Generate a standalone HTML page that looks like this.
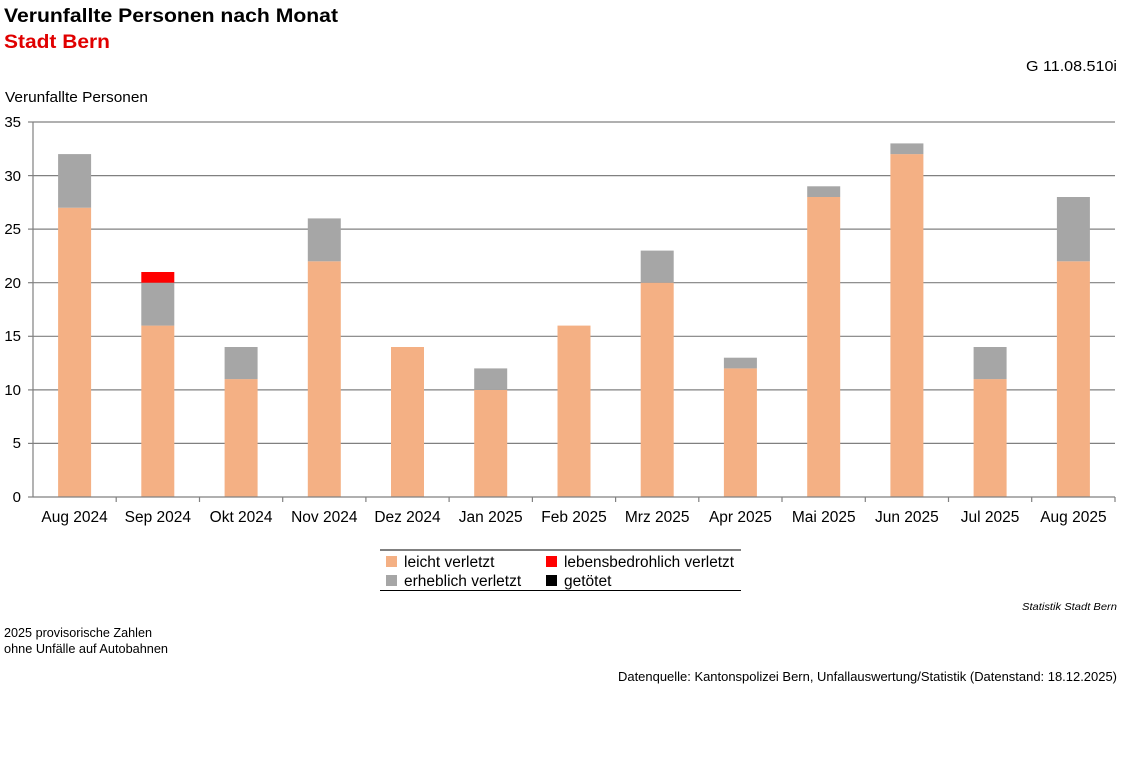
<!DOCTYPE html><html><head><meta charset="utf-8"><style>
body{margin:0;background:#fff;width:1127px;height:756px;overflow:hidden;font-family:"Liberation Sans",Arial,sans-serif}
</style></head><body>
<svg width="1127" height="756" xmlns="http://www.w3.org/2000/svg" font-family="Liberation Sans, Arial, sans-serif">
<text x="4" y="22" font-size="19" font-weight="bold" fill="#000" textLength="334" lengthAdjust="spacingAndGlyphs">Verunfallte Personen nach Monat</text>
<text x="4" y="48" font-size="19" font-weight="bold" fill="#e00000" textLength="106" lengthAdjust="spacingAndGlyphs">Stadt Bern</text>
<text x="1117" y="71" font-size="15" text-anchor="end" textLength="91" lengthAdjust="spacingAndGlyphs">G 11.08.510i</text>
<text x="5" y="102" font-size="15" textLength="143" lengthAdjust="spacingAndGlyphs">Verunfallte Personen</text>
<g stroke="#808080" stroke-width="1.2">
<line x1="33" x2="1115" y1="122" y2="122"/><line x1="33" x2="1115" y1="175.6" y2="175.6"/>
<line x1="33" x2="1115" y1="229.1" y2="229.1"/><line x1="33" x2="1115" y1="282.7" y2="282.7"/>
<line x1="33" x2="1115" y1="336.3" y2="336.3"/><line x1="33" x2="1115" y1="389.9" y2="389.9"/>
<line x1="33" x2="1115" y1="443.4" y2="443.4"/>
</g>
<g>
<rect x="58.1" y="207.7" width="33" height="289.3" fill="#f4b084"/><rect x="58.1" y="154.1" width="33" height="53.6" fill="#a6a6a6"/>
<rect x="141.3" y="325.6" width="33" height="171.4" fill="#f4b084"/><rect x="141.3" y="282.7" width="33" height="42.9" fill="#a6a6a6"/><rect x="141.3" y="272" width="33" height="10.7" fill="#ff0000"/>
<rect x="224.6" y="379.1" width="33" height="117.9" fill="#f4b084"/><rect x="224.6" y="347" width="33" height="32.1" fill="#a6a6a6"/>
<rect x="307.8" y="261.3" width="33" height="235.7" fill="#f4b084"/><rect x="307.8" y="218.4" width="33" height="42.9" fill="#a6a6a6"/>
<rect x="391" y="347" width="33" height="150" fill="#f4b084"/>
<rect x="474.2" y="389.9" width="33" height="107.1" fill="#f4b084"/><rect x="474.2" y="368.4" width="33" height="21.5" fill="#a6a6a6"/>
<rect x="557.5" y="325.6" width="33" height="171.4" fill="#f4b084"/>
<rect x="640.7" y="282.7" width="33" height="214.3" fill="#f4b084"/><rect x="640.7" y="250.6" width="33" height="32.1" fill="#a6a6a6"/>
<rect x="723.9" y="368.4" width="33" height="128.6" fill="#f4b084"/><rect x="723.9" y="357.7" width="33" height="10.7" fill="#a6a6a6"/>
<rect x="807.2" y="197" width="33" height="300" fill="#f4b084"/><rect x="807.2" y="186.3" width="33" height="10.7" fill="#a6a6a6"/>
<rect x="890.4" y="154.1" width="33" height="342.9" fill="#f4b084"/><rect x="890.4" y="143.4" width="33" height="10.7" fill="#a6a6a6"/>
<rect x="973.6" y="379.1" width="33" height="117.9" fill="#f4b084"/><rect x="973.6" y="347" width="33" height="32.1" fill="#a6a6a6"/>
<rect x="1056.9" y="261.3" width="33" height="235.7" fill="#f4b084"/><rect x="1056.9" y="197" width="33" height="64.3" fill="#a6a6a6"/>
</g>
<g stroke="#808080" stroke-width="1.2">
<line x1="33" x2="33" y1="122" y2="497"/><line x1="33" x2="1115" y1="497" y2="497"/>
<line x1="28" x2="33" y1="122" y2="122"/><line x1="28" x2="33" y1="175.6" y2="175.6"/><line x1="28" x2="33" y1="229.1" y2="229.1"/><line x1="28" x2="33" y1="282.7" y2="282.7"/><line x1="28" x2="33" y1="336.3" y2="336.3"/><line x1="28" x2="33" y1="389.9" y2="389.9"/><line x1="28" x2="33" y1="443.4" y2="443.4"/><line x1="28" x2="33" y1="497" y2="497"/>
<line x1="116.2" x2="116.2" y1="497" y2="502"/><line x1="199.5" x2="199.5" y1="497" y2="502"/><line x1="282.7" x2="282.7" y1="497" y2="502"/><line x1="365.9" x2="365.9" y1="497" y2="502"/><line x1="449.1" x2="449.1" y1="497" y2="502"/><line x1="532.4" x2="532.4" y1="497" y2="502"/><line x1="615.6" x2="615.6" y1="497" y2="502"/><line x1="698.8" x2="698.8" y1="497" y2="502"/><line x1="782" x2="782" y1="497" y2="502"/><line x1="865.3" x2="865.3" y1="497" y2="502"/><line x1="948.5" x2="948.5" y1="497" y2="502"/><line x1="1031.7" x2="1031.7" y1="497" y2="502"/><line x1="1115" x2="1115" y1="497" y2="502"/>
</g>
<g font-size="15" text-anchor="end">
<text x="21" y="127">35</text><text x="21" y="181">30</text><text x="21" y="234">25</text><text x="21" y="288">20</text><text x="21" y="341">15</text><text x="21" y="395">10</text><text x="21" y="448">5</text><text x="21" y="502">0</text>
</g>
<g font-size="15.5" text-anchor="middle">
<text x="74.6" y="522">Aug 2024</text><text x="157.8" y="522">Sep 2024</text><text x="241.1" y="522">Okt 2024</text><text x="324.3" y="522">Nov 2024</text><text x="407.5" y="522">Dez 2024</text><text x="490.7" y="522">Jan 2025</text><text x="574" y="522">Feb 2025</text><text x="657.2" y="522">Mrz 2025</text><text x="740.4" y="522">Apr 2025</text><text x="823.7" y="522">Mai 2025</text><text x="906.9" y="522">Jun 2025</text><text x="990.1" y="522">Jul 2025</text><text x="1073.4" y="522">Aug 2025</text>
</g>
<line x1="380" x2="741" y1="550" y2="550" stroke="#000"/>
<line x1="380" x2="741" y1="590.5" y2="590.5" stroke="#000"/>
<rect x="386" y="556" width="11" height="11" fill="#f4b084"/><text x="404" y="567" font-size="15.5">leicht verletzt</text>
<rect x="386" y="575" width="11" height="11" fill="#a6a6a6"/><text x="404" y="586" font-size="15.5">erheblich verletzt</text>
<rect x="546" y="556" width="11" height="11" fill="#ff0000"/><text x="564" y="567" font-size="15.5" textLength="170" lengthAdjust="spacingAndGlyphs">lebensbedrohlich verletzt</text>
<rect x="546" y="575" width="11" height="11" fill="#000"/><text x="564" y="586" font-size="15.5">getötet</text>
<text x="1117" y="610" font-size="10.5" font-style="italic" text-anchor="end" textLength="95" lengthAdjust="spacingAndGlyphs">Statistik Stadt Bern</text>
<text x="4" y="637" font-size="12.5" textLength="148" lengthAdjust="spacingAndGlyphs">2025 provisorische Zahlen</text>
<text x="4" y="653" font-size="12.5" textLength="164" lengthAdjust="spacingAndGlyphs">ohne Unfälle auf Autobahnen</text>
<text x="1117" y="681" font-size="12.5" text-anchor="end" textLength="499" lengthAdjust="spacingAndGlyphs">Datenquelle: Kantonspolizei Bern, Unfallauswertung/Statistik (Datenstand: 18.12.2025)</text>
</svg>
</body></html>
